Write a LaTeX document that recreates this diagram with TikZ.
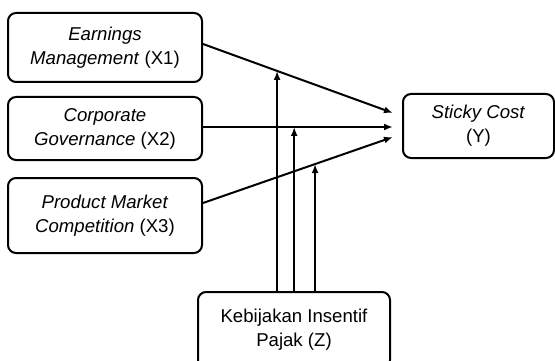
\documentclass[tikz,border=0pt]{standalone}
\usepackage{fontspec}
\setmainfont{Liberation Sans}
\usetikzlibrary{arrows.meta,calc}
\tikzset{
	varbox/.style={draw, line width=2pt, rounded corners=8pt, align=center,
		minimum width=194pt, font=\fontsize{18.6}{24}\selectfont, inner sep=0pt},
	link/.style={line width=2pt, -{Latex[length=9pt,width=7pt]}}
}
\begin{document}
\begin{tikzpicture}[x=1pt,y=-1pt]
	\useasboundingbox (0,0) rectangle (555,361);
	% variables
	\node [varbox, minimum height=69pt] (x1) at (105,47.5) {\textit{Earnings}\\\textit{Management} (X1)};
	\node [varbox, minimum height=63pt] (x2) at (105,128.5) {\textit{Corporate}\\\textit{Governance} (X2)};
	\node [varbox, minimum height=75pt] (x3) at (105,215.5) {\textit{Product Market}\\\textit{Competition} (X3)};
	\node [varbox, minimum width=151pt, minimum height=64pt] (y) at (478.5,126) {\textit{Sticky Cost}\\(Y)};
	\node [varbox, minimum width=192pt, minimum height=76pt] (z) at (294,330) {Kebijakan Insentif\\Pajak (Z)};
	% arrow ends near Y
	\coordinate (t1) at ($(y.west)+(-9,-13)$);
	\coordinate (t2) at ($(y.west)+(-9,1)$);
	\coordinate (t3) at ($(y.west)+(-9,11)$);
	% direct effects
	\draw [link] (x1.east |- 0,44) -- coordinate[pos=0.39] (m1) (t1);
	\draw [link] (x2.east |- t2) -- coordinate[pos=0.48] (m2) (t2);
	\draw [link] (x3.east |- 0,203) -- coordinate[pos=0.59] (m3) (t3);
	% moderating effects
	\draw [link] (m1 |- z.north) -- (m1);
	\draw [link] (m2 |- z.north) -- (m2);
	\draw [link] (m3 |- z.north) -- (m3);
\end{tikzpicture}
\end{document}
